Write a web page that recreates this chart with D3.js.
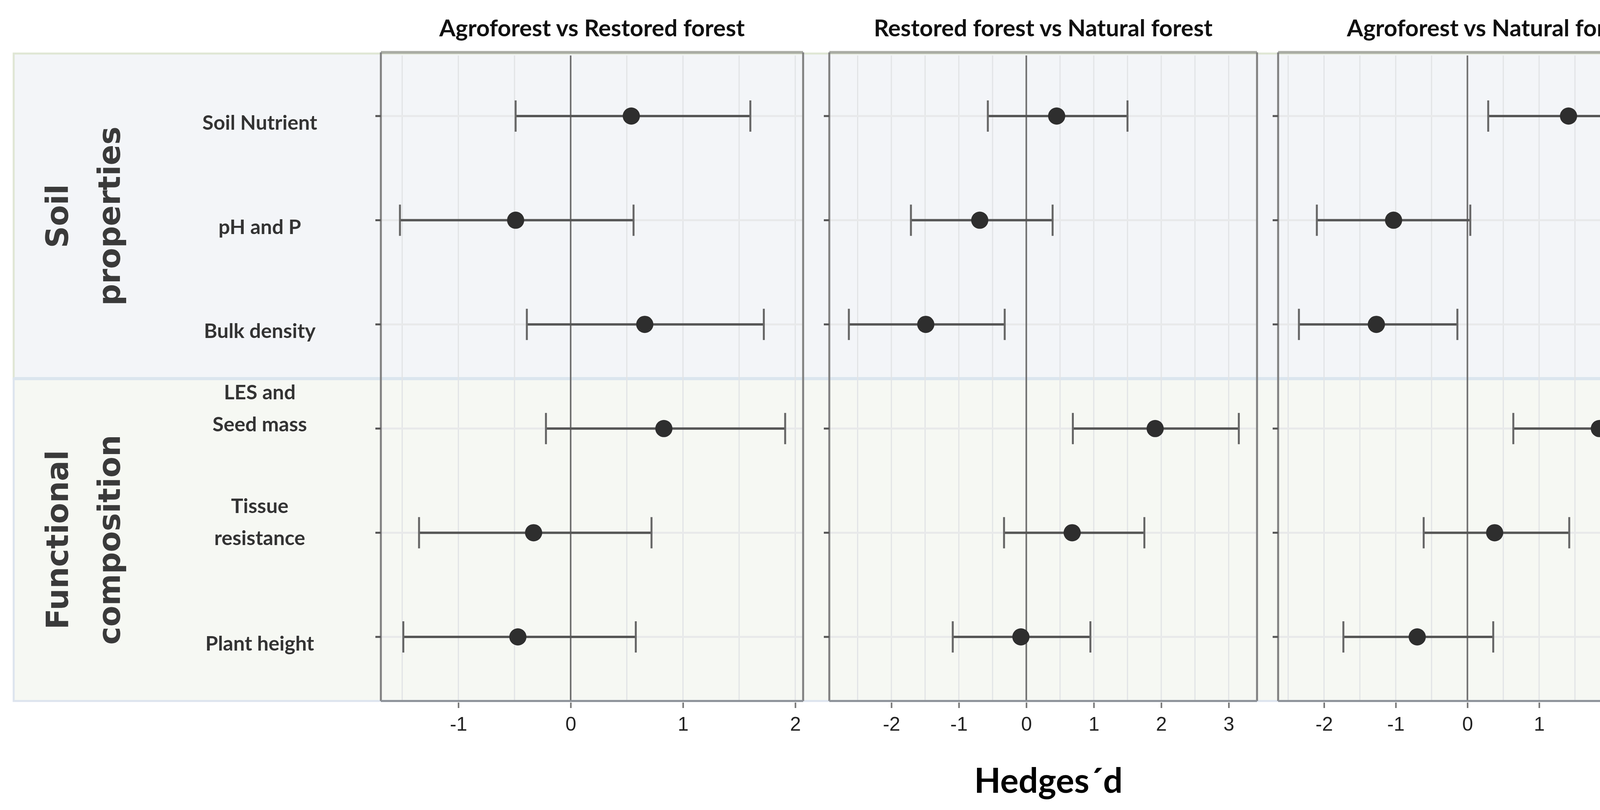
<!DOCTYPE html>
<html lang="en">
<head>
<meta charset="UTF-8">
<title>Hedges d forest plot</title>
<script src="https://d3js.org/d3.v7.min.js"></script>
<style>
  body { margin: 0; background: #fff; }
  svg text { fill: #222; }
</style>
</head>
<body>
<svg id="chart" width="4377" height="2073"></svg>
<script>
// data
const comparisons = ["Agroforest  vs Restored forest", "Restored forest vs Natural forest", "Agroforest vs Natural forest"];
const groups = ["Soil properties", "Functional composition"];
const variables = [["Soil Nutrient"], ["pH and  P"], ["Bulk density"], ["LES and", "Seed mass"], ["Tissue", "resistance"], ["Plant height"]];
const variableGroup = [0, 0, 0, 1, 1, 1];
// effect, lower, upper per comparison
const est1 = [0.54, -0.49, 0.66, 0.83, -0.33, -0.47];
const low1 = [-0.49, -1.52, -0.39, -0.22, -1.35, -1.49];
const up1  = [1.60, 0.56, 1.72, 1.91, 0.72, 0.58];
const est2 = [0.45, -0.69, -1.49, 1.91, 0.68, -0.08];
const low2 = [-0.57, -1.71, -2.63, 0.69, -0.33, -1.09];
const up2  = [1.50, 0.39, -0.32, 3.15, 1.75, 0.95];
const est3 = [1.41, -1.03, -1.27, 1.84, 0.38, -0.70];
const low3 = [0.29, -2.10, -2.35, 0.64, -0.61, -1.73];
const up3  = [2.55, 0.04, -0.14, 3.07, 1.42, 0.36];
const estimates = [est1, est2, est3];
const lowers = [low1, low2, low3];
const uppers = [up1, up2, up3];
const domains = [[-1.69, 2.07], [-2.92, 3.42], [-2.64, 3.32]];
const ticks = [[-1, 0, 1, 2], [-2, -1, 0, 1, 2, 3], [-2, -1, 0, 1, 2, 3]];

const svg = d3.select("#chart");
const panelX = [[975, 2056], [2123, 3218], [3272, 4366]];
const panelTop = 142, mid = 969, panelBottom = 1794;
const y = d3.scalePoint().domain(d3.range(6)).range([297, 1630]);

// group strips
const stripColors = ["#f3f5f8", "#f6f8f3"];
const stripY = [[panelTop - 5, mid], [mid, panelBottom]];
groups.forEach((g, i) => {
  svg.append("rect").attr("x", 35).attr("y", stripY[i][0]).attr("width", 4366 - 35)
    .attr("height", stripY[i][1] - stripY[i][0]).attr("fill", stripColors[i])
    .attr("stroke", i === 0 ? "#dfe6d4" : "#dde4ee").attr("stroke-width", 5);
});
svg.append("line").attr("x1", 35).attr("x2", 4366).attr("y1", mid).attr("y2", mid)
  .attr("stroke", "#dbe5ee").attr("stroke-width", 8);

// group labels
const groupLines = [["Soil", "properties"], ["Functional", "composition"]];
groupLines.forEach((lines, i) => {
  const cy = (stripY[i][0] + stripY[i][1]) / 2;
  lines.forEach((t, j) => {
    svg.append("text").attr("transform", `translate(${147 + j * 133},${cy}) rotate(-90)`)
      .attr("text-anchor", "middle").attr("dominant-baseline", "central")
      .style("font-family", "DejaVu Sans").style("font-weight", "bold").style("font-size", "78px")
      .style("fill", "#3a3a3a").text(t);
  });
});

// row labels
variables.forEach((lines, i) => {
  const n = lines.length;
  lines.forEach((t, j) => {
    svg.append("text").attr("x", 665)
      .attr("y", n === 1 ? y(i) + 15 : y(i) - 95 + j * 82 - (i === 4 ? -25 : 0))
      .attr("text-anchor", "middle").attr("dominant-baseline", "central")
      .style("font-family", "Lato").style("font-weight", "bold").style("font-size", "52px")
      .style("fill", "#333").text(t);
  });
});

comparisons.forEach((title, p) => {
  const [x0, x1] = panelX[p];
  const x = d3.scaleLinear().domain(domains[p]).range([x0, x1]);
  const g = svg.append("g");

  // minor grid every 0.5
  const minor = d3.range(Math.ceil(domains[p][0] * 2) / 2, domains[p][1], 0.5);
  g.selectAll(".minor").data(minor).join("line")
    .attr("x1", d => x(d)).attr("x2", d => x(d)).attr("y1", panelTop).attr("y2", panelBottom)
    .attr("stroke", "#e2e4e6").attr("stroke-width", 3);
  // horizontal row grid
  g.selectAll(".hg").data(d3.range(6)).join("line")
    .attr("x1", x0).attr("x2", x1).attr("y1", d => y(d)).attr("y2", d => y(d))
    .attr("stroke", "#e8e9ea").attr("stroke-width", 5);
  // zero line
  g.append("line").attr("x1", x(0)).attr("x2", x(0)).attr("y1", panelTop).attr("y2", panelBottom)
    .attr("stroke", "#6e6e6e").attr("stroke-width", 4);
  // panel borders
  g.append("line").attr("x1", x0).attr("x2", x1).attr("y1", panelTop - 8).attr("y2", panelTop - 8)
    .attr("stroke", "#a9aca4").attr("stroke-width", 7);
  [x0, x1].forEach(xx => g.append("line").attr("x1", xx).attr("x2", xx).attr("y1", panelTop - 8).attr("y2", panelBottom)
    .attr("stroke", "#808080").attr("stroke-width", 5));
  g.append("line").attr("x1", x0).attr("x2", x1).attr("y1", panelBottom).attr("y2", panelBottom)
    .attr("stroke", "#8a8f96").attr("stroke-width", 5);
  // y tick marks
  g.selectAll(".yt").data(d3.range(6)).join("line")
    .attr("x1", x0 - 14).attr("x2", x0).attr("y1", d => y(d)).attr("y2", d => y(d))
    .attr("stroke", "#555").attr("stroke-width", 5);

  // title
  svg.append("text").attr("x", (x0 + x1) / 2).attr("y", 70)
    .attr("text-anchor", "middle").attr("dominant-baseline", "central")
    .style("font-family", "Lato").style("font-weight", "bold").style("font-size", "60px")
    .style("fill", "#111").text(title);

  // x axis
  const axis = svg.append("g").attr("transform", `translate(0,${panelBottom + 4})`)
    .call(d3.axisBottom(x).tickValues(ticks[p]).tickFormat(d3.format("d")).tickSize(14).tickPadding(22));
  axis.select(".domain").remove();
  axis.selectAll(".tick line").attr("stroke", "#777").attr("stroke-width", 4);
  axis.selectAll(".tick text").style("font-family", "Liberation Sans").style("font-size", "50px")
    .style("fill", "#222").text(d => d < 0 ? "-" + Math.abs(d) : d);

  // error bars
  const idx = d3.range(6);
  g.selectAll(".eb").data(idx).join("line")
    .attr("x1", i => x(lowers[p][i])).attr("x2", i => x(uppers[p][i]))
    .attr("y1", i => y(i)).attr("y2", i => y(i))
    .attr("stroke", "#555").attr("stroke-width", 6);
  ["lo", "hi"].forEach(k => {
    g.selectAll(".cap" + k).data(idx).join("line")
      .attr("x1", i => x(k === "lo" ? lowers[p][i] : uppers[p][i]))
      .attr("x2", i => x(k === "lo" ? lowers[p][i] : uppers[p][i]))
      .attr("y1", i => y(i) - 40).attr("y2", i => y(i) + 40)
      .attr("stroke", "#666").attr("stroke-width", 5);
  });
  g.selectAll(".pt").data(idx).join("circle")
    .attr("cx", i => x(estimates[p][i])).attr("cy", i => y(i)).attr("r", 22)
    .attr("fill", "#2e2e2e");
});

svg.append("text").attr("x", 2684).attr("y", 1995)
  .attr("text-anchor", "middle").attr("dominant-baseline", "central")
  .style("font-family", "Lato").style("font-weight", "bold").style("font-size", "88px")
  .style("fill", "#000").text("Hedges´d");
</script>
</body>
</html>
